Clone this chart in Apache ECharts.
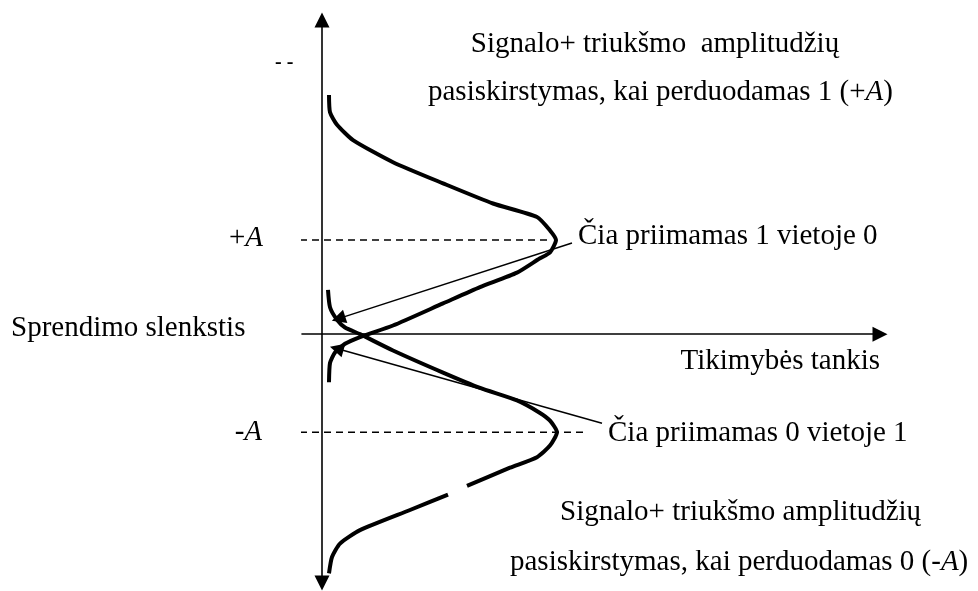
<!DOCTYPE html>
<html>
<head>
<meta charset="utf-8">
<script src="https://cdn.jsdelivr.net/npm/echarts@6/dist/echarts.min.js"></script>
<style>
  html, body { margin: 0; padding: 0; background: #fff; }
  #main { width: 978px; height: 591px; }
</style>
</head>
<body>
<div id="main"></div>
<script>
// [tikimybes tankis, amplitude]
const upperCurve = [
  [0.07, 2.49], [0.08, 2.31], [0.15, 2.18], [0.31, 2.02], [0.71, 1.79],
  [1.21, 1.57], [1.71, 1.36], [2.15, 1.22], [2.28, 1.08], [2.34, 0.98],
  [2.28, 0.85], [2.18, 0.79], [1.95, 0.64], [1.58, 0.49], [1.21, 0.32],
  [0.71, 0.09], [0.38, -0.03], [0.23, -0.10], [0.13, -0.19], [0.08, -0.30],
  [0.07, -0.50]
]
const lowerCurve = [
  [0.06, 0.46], [0.08, 0.28], [0.15, 0.15], [0.23, 0.07], [0.38, 0.0],
  [0.71, -0.17], [1.21, -0.40], [1.58, -0.56], [1.95, -0.69], [2.18, -0.82],
  [2.28, -0.90], [2.35, -1.02], [2.28, -1.16], [2.15, -1.28], [1.88, -1.39],
  [1.45, -1.58], ['-', '-'], [1.26, -1.67], [0.88, -1.83], [0.38, -2.04],
  [0.18, -2.18], [0.10, -2.32], [0.07, -2.49]
]
const levelPlusA = 0.98
const levelMinusA = -1.02
const dashPlus = [[-0.34, levelPlusA], [2.30, levelPlusA]]
const dashMinus = [[-0.34, levelMinusA], [2.65, levelMinusA]]
const arrowOneForZero = [[2.50, 0.948], [0.165, 0.162]]
const arrowZeroForOne = [[2.80, -0.927], [0.147, -0.15]]

const titleTop = ['Signalo+ triukšmo  amplitudžių', 'pasiskirstymas, kai perduodamas 1 (+{i|A})']
const titleBottom = ['Signalo+ triukšmo amplitudžių', 'pasiskirstymas, kai perduodamas 0 (-{i|A})']
const noteOneForZero = 'Čia priimamas 1 vietoje 0'
const noteZeroForOne = 'Čia priimamas 0 vietoje 1'
const thresholdName = 'Sprendimo slenkstis'
const densityName = 'Tikimybės tankis'

const font = '29px "Liberation Serif", "Times New Roman", serif'
const rich = { i: { font: 'italic 29px "Liberation Serif", serif', fill: '#000' } }

function txt (text, x, y, align) {
  return {
    type: 'text', x: x, y: y, silent: true,
    style: { text: text, font: font, fill: '#000', align: align, verticalAlign: 'middle', rich: rich }
  }
}

const chart = echarts.init(document.getElementById('main'))
chart.setOption({
  animation: false,
  grid: { left: 302, right: 98, top: 20, bottom: 8 },
  xAxis: {
    type: 'value', min: -0.2, max: 5.58,
    axisLine: { onZero: true, symbol: ['none', 'triangle'], symbolSize: [15, 15], lineStyle: { color: '#000', width: 1.6 } },
    axisTick: { show: false }, axisLabel: { show: false }, splitLine: { show: false }
  },
  yAxis: {
    type: 'value', min: -2.59, max: 3.27,
    axisLine: { onZero: true, symbol: ['triangle', 'triangle'], symbolSize: [15, 15], lineStyle: { color: '#000', width: 1.6 } },
    axisTick: { show: false }, axisLabel: { show: false }, splitLine: { show: false }
  },
  series: [
    {
      type: 'line', data: dashPlus, symbol: 'none', clip: false, silent: true,
      lineStyle: { color: '#000', width: 1.5, type: [7, 5] }
    },
    {
      type: 'line', data: dashMinus, symbol: 'none', clip: false, silent: true,
      lineStyle: { color: '#000', width: 1.5, type: [7, 5] }
    },
    {
      type: 'line', data: upperCurve, symbol: 'none', smooth: 0.2, clip: false, silent: true,
      lineStyle: { color: '#000', width: 4 }
    },
    {
      type: 'line', data: lowerCurve, symbol: 'none', smooth: 0.2, clip: false, silent: true, connectNulls: false,
      lineStyle: { color: '#000', width: 4 }
    },
    {
      type: 'lines', coordinateSystem: 'cartesian2d', silent: true,
      symbol: ['none', 'triangle'], symbolSize: [11, 14],
      lineStyle: { color: '#000', width: 1.5, opacity: 1, curveness: 0 },
      data: [{ coords: arrowOneForZero }, { coords: arrowZeroForOne }]
    }
  ],
  graphic: [
    txt(titleTop[0], 655, 44, 'center'),
    txt(titleTop[1], 428, 92, 'left'),
    txt(titleBottom[0], 560, 512, 'left'),
    txt(titleBottom[1], 510, 562, 'left'),
    txt(noteOneForZero, 578, 236, 'left'),
    txt(noteZeroForOne, 608, 433, 'left'),
    txt(thresholdName, 11, 328, 'left'),
    txt(densityName, 880, 361, 'right'),
    txt('+{i|A}', 263, 238, 'right'),
    txt('-{i|A}', 262, 432, 'right'),
    {
      type: 'text', x: 275, y: 63, silent: true,
      style: { text: '- -', font: 'bold 20px "Liberation Serif", serif', fill: '#000', align: 'left', verticalAlign: 'middle' }
    }
  ]
})
</script>
</body>
</html>
